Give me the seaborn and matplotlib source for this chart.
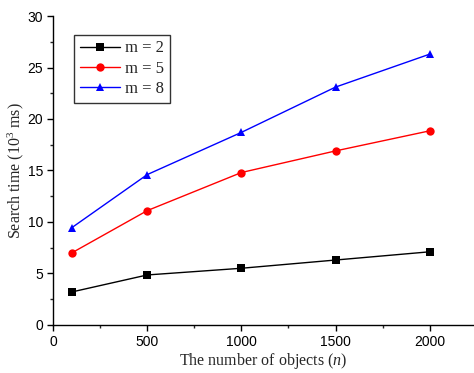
import matplotlib
matplotlib.use("Agg")
import matplotlib.pyplot as plt
import seaborn as sns
import pandas as pd
from matplotlib.ticker import MultipleLocator

n_objects = [100, 500, 1000, 1500, 2000]
m2 = [3.2, 4.85, 5.5, 6.3, 7.1]
m5 = [7.0, 11.1, 14.8, 16.9, 18.85]
m8 = [9.45, 14.6, 18.7, 23.1, 26.3]
labels = ["m = 2", "m = 5", "m = 8"]

df = pd.DataFrame({
    "n": n_objects * 3,
    "t": m2 + m5 + m8,
    "series": [labels[0]] * 5 + [labels[1]] * 5 + [labels[2]] * 5,
})

sns.set_style("ticks")
plt.rcParams["font.family"] = ["Liberation Sans", "DejaVu Sans"]
plt.rcParams["mathtext.fontset"] = "custom"
plt.rcParams["mathtext.rm"] = "Liberation Serif"
plt.rcParams["mathtext.it"] = "Liberation Serif:italic"

fig = plt.figure(figsize=(4.74, 3.73), dpi=100)
ax = fig.add_axes([0.112, 0.129, 0.888, 0.828])

sns.lineplot(data=df, x="n", y="t", hue="series", style="series",
             palette=["black", "red", "blue"],
             markers=["s", "o", "^"], dashes=False, markersize=6,
             markeredgewidth=0, linewidth=1, ax=ax)

ax.set_xlim(0, 2235)
ax.set_ylim(0, 30)
ax.xaxis.set_major_locator(MultipleLocator(500))
ax.xaxis.set_minor_locator(MultipleLocator(250))
ax.yaxis.set_major_locator(MultipleLocator(5))
ax.yaxis.set_minor_locator(MultipleLocator(2.5))
ax.tick_params(which="major", direction="out", length=4, width=1, labelsize=10,
               colors="black", pad=3)
ax.tick_params(which="minor", direction="out", length=2.5, width=1)
for s in ["top", "right"]:
    ax.spines[s].set_visible(False)
for s in ["left", "bottom"]:
    ax.spines[s].set_color("black")
    ax.spines[s].set_linewidth(1)

serif = ["Liberation Serif", "DejaVu Serif"]
ax.set_xlabel("The number of objects ($\\it{n}$)", family=serif, fontsize=11.5, labelpad=2)
ax.set_ylabel("Search time (10$^3$ ms)", family=serif, fontsize=11.5, labelpad=1)

leg = ax.legend(loc="upper left", bbox_to_anchor=(0.05, 0.94), frameon=True,
                fancybox=False, edgecolor="black", prop={"family": serif, "size": 12},
                handlelength=2.4, handletextpad=0.3, borderpad=0.35, labelspacing=0.25,
                borderaxespad=0)
leg.get_frame().set_linewidth(1)

fig.savefig("out.png", dpi=100)
